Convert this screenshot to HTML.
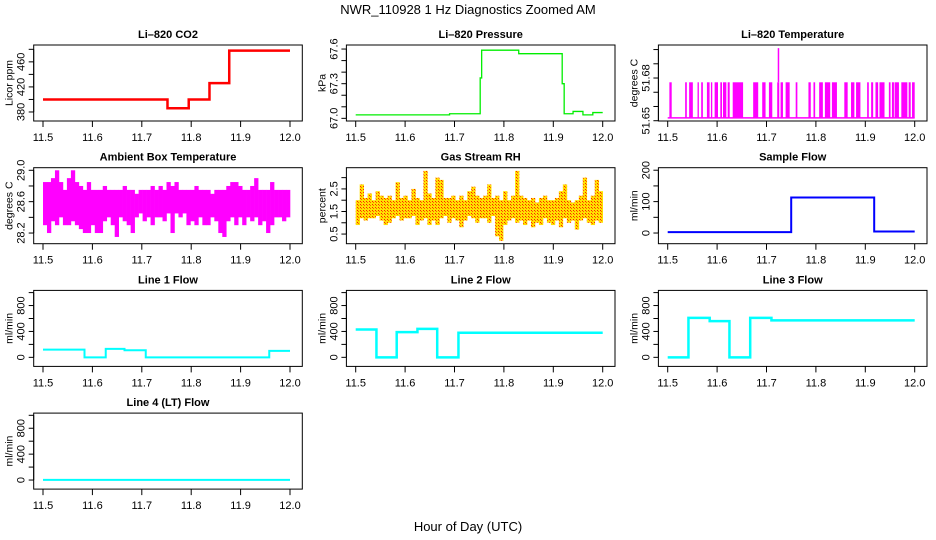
<!DOCTYPE html>
<html><head><meta charset="utf-8"><title>NWR_110928 1 Hz Diagnostics Zoomed AM</title>
<style>
html,body{margin:0;padding:0;background:#fff;}
svg{display:block;font-family:"Liberation Sans",Arial,sans-serif;}
</style></head>
<body>
<svg id="chart" width="936" height="540" viewBox="0 0 936 540" xmlns="http://www.w3.org/2000/svg">
<defs>
<pattern id="reddots" width="3" height="3" patternUnits="userSpaceOnUse"><rect width="3" height="3" fill="#FFE000"/><rect width="1" height="1" fill="#FF2000"/><rect x="1" y="1" width="1" height="1" fill="#FF6000"/></pattern>
</defs>
<text x="468" y="14" text-anchor="middle" font-size="13">NWR_110928  1 Hz Diagnostics Zoomed AM</text>
<text x="468" y="531" text-anchor="middle" font-size="13">Hour of Day (UTC)</text>
</svg>
<script>
// ---- data ----
const xTicks = [11.5, 11.6, 11.7, 11.8, 11.9, 12.0];
const xTickLabels = ["11.5", "11.6", "11.7", "11.8", "11.9", "12.0"];

const co2Times = [11.5, 11.752, 11.795, 11.837, 11.877];
const co2Vals = [400, 386, 400, 426, 478];

const presTimes = [11.5, 11.69, 11.752, 11.755, 11.83, 11.918, 11.922, 11.94, 11.96, 11.98];
const presVals = [67.03, 67.04, 67.35, 67.59, 67.56, 67.3, 67.04, 67.06, 67.03, 67.05];

const tempLow = 51.652;
const tempHigh = 51.677;
const tempSpikeVal = 51.701;
const tempSpikeStart = 11.7217;
const tempSpikeEnd = 11.7258;
const tempHighStarts = [11.5034,11.5353,11.5434,11.5604,11.5678,11.5794,11.5875,11.5950,11.6065,11.6119,11.6214,11.6316,11.6730,11.6913,11.7049,11.7217,11.7285,11.7387,11.7591,11.7849,11.7951,11.8066,11.8182,11.8324,11.8575,11.8711,11.8813,11.9037,11.9118,11.9206,11.9287,11.9477,11.9539,11.9593,11.9729,11.9878,11.9946];
const tempHighEnds   = [11.5081,11.5387,11.5509,11.5631,11.5712,11.5848,11.5902,11.6018,11.6099,11.6187,11.6255,11.6526,11.6832,11.6981,11.7117,11.7258,11.7333,11.7469,11.7625,11.7896,11.7985,11.8141,11.8290,11.8426,11.8643,11.8779,11.8901,11.9071,11.9159,11.9260,11.9389,11.9511,11.9580,11.9681,11.9851,11.9919,12.0];

const ambHi = [28.85,28.85,28.9,29.0,28.85,28.75,28.9,29.0,28.85,28.8,28.75,28.85,28.75,28.75,28.75,28.8,28.75,28.75,28.75,28.75,28.8,28.75,28.75,28.7,28.75,28.75,28.75,28.8,28.75,28.8,28.75,28.85,28.8,28.85,28.75,28.75,28.75,28.75,28.8,28.75,28.75,28.75,28.7,28.75,28.75,28.75,28.8,28.85,28.85,28.8,28.75,28.75,28.8,28.9,28.75,28.75,28.75,28.85,28.75,28.75,28.75,28.75];
const ambLo = [28.3,28.2,28.35,28.3,28.4,28.3,28.3,28.35,28.3,28.25,28.2,28.2,28.3,28.2,28.2,28.35,28.4,28.3,28.15,28.4,28.35,28.3,28.2,28.4,28.45,28.35,28.4,28.3,28.4,28.4,28.35,28.45,28.2,28.45,28.4,28.45,28.3,28.35,28.3,28.4,28.3,28.3,28.4,28.35,28.2,28.15,28.35,28.4,28.3,28.4,28.3,28.4,28.35,28.4,28.3,28.35,28.2,28.3,28.4,28.4,28.35,28.4];

const rhHi = [2.0,2.7,2.1,2.3,2.0,2.4,2.2,2.1,2.2,2.0,2.8,2.1,2.2,2.0,2.5,2.1,2.0,3.3,2.3,2.1,3.0,2.9,2.1,2.1,2.2,2.0,2.2,2.0,2.4,2.6,2.2,2.1,2.2,2.7,2.1,2.2,2.0,2.4,2.0,2.2,3.3,2.2,2.1,2.0,2.1,1.9,2.1,2.2,2.0,2.0,2.1,2.4,2.7,2.0,1.9,2.0,2.2,3.0,2.0,2.2,2.9,2.4];
const rhLo = [0.9,1.2,1.1,1.2,1.2,1.3,1.1,0.9,1.0,1.2,1.3,1.1,1.2,1.2,1.3,0.9,1.1,1.2,0.9,1.1,0.9,1.2,1.3,1.0,1.2,1.1,0.8,1.1,1.3,1.2,1.0,1.2,1.2,1.0,1.3,0.4,0.2,0.9,1.1,1.2,1.0,1.1,0.9,1.1,0.8,1.0,0.9,1.2,1.0,0.9,1.1,0.8,1.2,1.0,1.1,0.7,1.1,1.2,1.0,0.9,1.1,1.0];

const sampleTimes = [11.5, 11.75, 11.918];
const sampleVals = [3, 113, 5];

const line1Times = [11.5, 11.584, 11.627, 11.665, 11.708, 11.958];
const line1Vals = [120, 0, 130, 110, 0, 100];
const line2Times = [11.5, 11.542, 11.583, 11.625, 11.665, 11.708];
const line2Vals = [430, 0, 390, 440, 0, 380];
const line3Times = [11.5, 11.542, 11.585, 11.625, 11.667, 11.71];
const line3Vals = [0, 610, 560, 0, 610, 570];
const line4Times = [11.5];
const line4Vals = [2];

const co2Ticks = [380,400,420,440,460,480], co2Labels = ["380","420","460"];
const presTicks = [67.0,67.1,67.2,67.3,67.4,67.5,67.6], presLabels = ["67.0","67.3","67.6"];
const tempTicks = [51.65,51.66,51.67,51.68,51.69,51.70], tempLabels = ["51.65","51.68"];
const ambTicks = [28.2,28.4,28.6,28.8,29.0], ambLabels = ["28.2","28.6","29.0"];
const rhTicks = [0.5,1.0,1.5,2.0,2.5,3.0], rhLabels = ["0.5","1.5","2.5"];
const sampleTicks = [0,50,100,150,200], sampleLabels = ["0","100","200"];
const flowTicks = [0,200,400,600,800,1000], flowLabels = ["0","400","800"];

// ---- drawing ----
const svg = document.getElementById('chart');
const NS = 'http://www.w3.org/2000/svg';
const colX0 = [43, 355.7, 667.7];
const XW = 247;
function mk(tag, attrs, parent){
  const e = document.createElementNS(NS, tag);
  for (const k in attrs) e.setAttribute(k, attrs[k]);
  (parent||svg).appendChild(e);
  return e;
}
function panel(col, row, title, ytitle, dom, ticks, labels, slug){
  const g = mk('g', {});
  
  
  const x0 = colX0[col];
  const top = 45 + row*122.7, bot = 121 + row*122.7;
  const xs = t => x0 + (t - 11.5) / 0.5 * XW;
  const ys = v => bot - (v - dom[0]) / (dom[1] - dom[0]) * (bot - top);
  const left = x0 - 9.3, right = x0 + 259.3;
  const t = mk('text', {x:(left+right)/2, y: top-7, 'text-anchor':'middle', 'font-size':11, 'font-weight':'bold'}, g);
  t.textContent = title;
  
  
  const yt = mk('text', {x:0, y:0, 'text-anchor':'middle', 'font-size':10.5, transform:`translate(${left-21},${(top+bot)/2}) rotate(-90)`}, g);
  yt.textContent = ytitle;
  
  
  xTicks.forEach((v,i) => {
    mk('line', {x1:xs(v), x2:xs(v), y1:bot, y2:bot+6, stroke:'#000', 'stroke-width':1}, g);
    const l = mk('text', {x:xs(v), y:bot+20, 'text-anchor':'middle', 'font-size':11}, g);
    l.textContent = xTickLabels[i];
    
    
  });
  ticks.forEach(v => {
    mk('line', {x1:left-5, x2:left, y1:ys(v), y2:ys(v), stroke:'#000', 'stroke-width':1}, g);
  });
  mk('line', {x1:left, x2:left, y1:ys(ticks[0]), y2:ys(ticks[ticks.length-1]), stroke:'#000'}, g);
  labels.forEach(s => {
    const v = parseFloat(s);
    const l = mk('text', {x:0, y:0, 'text-anchor':'middle', 'font-size':11, transform:`translate(${left-9},${ys(v)}) rotate(-90)`}, g);
    l.textContent = s;
    
    
  });
  const plot = mk('g', {}, g);
  
  
  const box = mk('rect', {x:left, y:top, width:right-left, height:bot-top, fill:'none', stroke:'#000', 'stroke-width':1}, g);
  
  
  return {xs, ys, plot};
}
function stepLine(p, times, vals, color, w, slug){
  let d = '';
  times.forEach((t,i) => {
    const tEnd = i+1 < times.length ? times[i+1] : 12.0;
    d += (i===0 ? 'M' : 'L') + p.xs(t) + ' ' + p.ys(vals[i]) + ' L' + p.xs(tEnd) + ' ' + p.ys(vals[i]) + ' ';
  });
  const e = mk('path', {d, fill:'none', stroke:color, 'stroke-width':w}, p.plot);
  
  
}

const p1 = panel(0,0,'Li\u2013820 CO2','Licor ppm',[365.6,486.9],co2Ticks,co2Labels,'co2');
stepLine(p1, co2Times, co2Vals, '#FF0000', 2.5, 'co2-line');

const p2 = panel(1,0,'Li\u2013820 Pressure','kPa',[66.977,67.635],presTicks,presLabels,'pressure');
stepLine(p2, presTimes, presVals, '#00EE00', 1.3, 'pressure-line');

const p3 = panel(2,0,'Li\u2013820 Temperature','degrees C',[51.6498,51.7032],tempTicks,tempLabels,'temperature');
stepLine(p3, [11.5], [tempLow], '#FF00FF', 1.5, 'temperature-baseline');
tempHighStarts.forEach((s,i) => {
  const r = mk('rect', {x:p3.xs(s), y:p3.ys(tempHigh), width:Math.max(1, p3.xs(tempHighEnds[i])-p3.xs(s)), height:p3.ys(tempLow)-p3.ys(tempHigh), fill:'#FF00FF'}, p3.plot);
  
  
});
{
  const r = mk('rect', {x:p3.xs(tempSpikeStart)+0.5, y:p3.ys(tempSpikeVal), width:1.5, height:p3.ys(tempHigh)-p3.ys(tempSpikeVal), fill:'#FF00FF'}, p3.plot);
  
  
}

const p4 = panel(0,1,'Ambient Box Temperature','degrees C',[28.064,29.033],ambTicks,ambLabels,'ambient');
{
  const n = Math.min(ambHi.length, ambLo.length), dt = 0.5/n;
  for (let i=0;i<n;i++){
    const t = 11.5 + i*dt;
    const r = mk('rect', {x:p4.xs(t), y:p4.ys(ambHi[i]), width:p4.xs(t+dt)-p4.xs(t)+0.3, height:p4.ys(ambLo[i])-p4.ys(ambHi[i]), fill:'#FF00FF'}, p4.plot);
    
    
  }
}
const p5 = panel(1,1,'Gas Stream RH','percent',[0.073,3.44],rhTicks,rhLabels,'rh');
{
  const n = Math.min(rhHi.length, rhLo.length), dt = 0.5/n;
  for (let i=0;i<n;i++){
    const t = 11.5 + i*dt;
    const r = mk('rect', {x:p5.xs(t), y:p5.ys(rhHi[i]), width:p5.xs(t+dt)-p5.xs(t)+0.3, height:p5.ys(rhLo[i])-p5.ys(rhHi[i]), fill:'url(#reddots)'}, p5.plot);
    
    
  }
}
const p6 = panel(2,1,'Sample Flow','ml/min',[-34,208],sampleTicks,sampleLabels,'sample-flow');
stepLine(p6, sampleTimes, sampleVals, '#0000FF', 2, 'sample-flow-line');

const p7 = panel(0,2,'Line 1 Flow','ml/min',[-140,1034],flowTicks,flowLabels,'line1-flow');
stepLine(p7, line1Times, line1Vals, '#00FFFF', 2, 'line1-flow-line');
const p8 = panel(1,2,'Line 2 Flow','ml/min',[-140,1034],flowTicks,flowLabels,'line2-flow');
stepLine(p8, line2Times, line2Vals, '#00FFFF', 2.5, 'line2-flow-line');
const p9 = panel(2,2,'Line 3 Flow','ml/min',[-140,1034],flowTicks,flowLabels,'line3-flow');
stepLine(p9, line3Times, line3Vals, '#00FFFF', 2.5, 'line3-flow-line');

const p10 = panel(0,3,'Line 4 (LT) Flow','ml/min',[-140,1034],flowTicks,flowLabels,'line4-flow');
stepLine(p10, line4Times, line4Vals, '#00FFFF', 2, 'line4-flow-line');
</script>
</body></html>
